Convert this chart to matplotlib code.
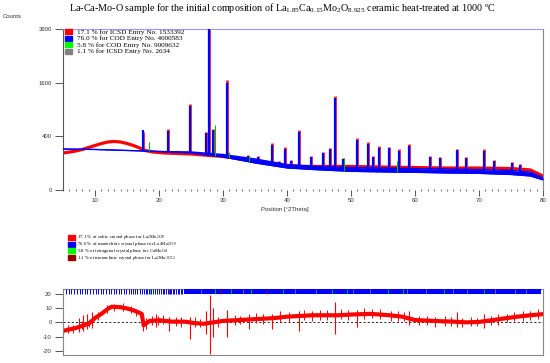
import numpy as np
import matplotlib
matplotlib.use("Agg")
import matplotlib.pyplot as plt
from matplotlib.patches import Rectangle
from matplotlib.ticker import MultipleLocator, FixedLocator

plt.rcParams['mathtext.fontset'] = 'custom'
plt.rcParams['mathtext.rm'] = 'Liberation Serif'
plt.rcParams['mathtext.it'] = 'Liberation Serif'

# ---------------- data ----------------
title_text = ("La-Ca-Mo-O sample for the initial composition of "
              "La$_{1.85}$Ca$_{0.15}$Mo$_{2}$O$_{8.925}$ ceramic heat-treated at 1000 $^{o}$C")

# background (lower edge of calc fill) and calc upper edge of continuous fill
bg_x = [5, 10, 15, 20, 25, 30, 35, 40, 45, 50, 55, 60, 65, 70, 75, 78, 80]
bg_y = [233, 228, 217, 206, 190, 151, 101, 67, 56, 48, 45, 43, 40, 38, 33, 27, 14]
calc_y = [233, 228, 217, 206, 201, 175, 134, 90, 77, 70, 67, 64, 61, 58, 53, 45, 20]

# observed (red) envelope
obs_x = [5, 6, 7, 8, 9, 10, 11, 12, 13, 14, 15, 16, 17, 17.8, 19, 21, 23, 25, 28, 30,
         33, 36, 39, 42, 45, 50, 55, 60, 65, 70, 75, 78, 80]
obs_y = [190, 200, 211, 228, 251, 275, 300, 320, 327, 320, 300, 275, 245, 217, 201, 190,
         185, 180, 165, 156, 134, 109, 87, 77, 77, 77, 73, 70, 67, 67, 64, 56, 27]

# Bragg peaks: position (deg 2theta), calculated height, observed height
peak_pos = [17.45, 21.46, 24.84, 27.4, 27.86, 28.5, 30.57, 33.96, 35.4, 37.62, 38.8, 39.75,
            40.6, 41.8, 43.8, 45.7, 46.65, 47.5, 48.8, 51.0, 52.7, 53.5, 54.4, 55.9, 57.5,
            59.1, 62.3, 63.9, 66.6, 68.0, 70.8, 72.3, 75.1, 76.4]
peak_calc = [500, 490, 980, 450, 3650, 500, 1600, 160, 150, 285, 111, 236,
             119, 466, 150, 186, 230, 1180, 136, 350, 298, 150, 249, 241, 214,
             272, 150, 140, 222, 139, 214, 117, 99, 87]
peak_obs = [470, 520, 1020, 470, 3650, 520, 1680, 170, 160, 310, 120, 255,
            125, 500, 160, 200, 245, 1240, 145, 375, 320, 160, 265, 255, 230,
            290, 160, 150, 235, 150, 228, 125, 108, 95]

green_pos = [18.5, 28.7, 31.0, 34.0, 48.9, 57.2]
green_h = [316, 590, 200, 165, 139, 120]

# residual
res_x = [5, 6, 7, 8, 9, 10, 11, 12, 12.6, 13.9, 15, 16, 16.8, 17.3, 17.6, 18.5, 20, 22, 24,
         25.5, 27, 28.5, 30, 32, 34, 36, 38, 40, 42, 44, 46, 48, 50, 53, 56, 58, 60, 62, 64,
         66, 68, 70, 72, 74, 76, 78, 80]
res_y = [-6, -5, -4, -2.5, -1, 3, 6, 9.5, 11, 10.7, 9.8, 8.5, 7, 6, -2, 1, 1.5, 0.5, 0.5,
         -0.5, -1, 0, 1, 1.5, 2, 2.5, 3, 4, 4.5, 5, 5, 5, 5.5, 6, 5, 4, 1.6, 1.2, 0.8,
         0.5, 0, 0.3, 1.5, 2.8, 4, 5, 5.8]
spike_pos = [7.5, 8.2, 8.8, 9.5, 17.5, 19.5, 21.6, 24.8, 27.4, 27.9, 28.4, 30.6, 34.0,
             37.7, 41.8, 47.5, 51.0, 59.0, 66.6, 70.8]
spike_lo = [-7, -6, -5, -4, -6, -3, -6, -12, -8, -22, -10, -10, -5, -5, -6, -8, -3, -2, -3, -4]
spike_hi = [3, 5, 6, 7, 6, 6, 4, 4, 8, 19, 10, 9, 6, 6, 8, 14, 9, 8, 7, 6]

# small noise excursions around the residual curve (below / above)
noise_pos = [5.8, 6.6, 7.9, 9.1, 10.4, 11.8, 13.0, 14.4, 15.7, 16.4,
             18.0, 18.9, 19.9, 20.7, 22.6, 23.4, 25.6, 26.4, 29.2, 31.8,
             32.6, 35.2, 36.3, 38.9, 40.3, 42.7, 43.9, 45.1, 46.2, 48.4,
             49.5, 52.1, 53.3, 54.6, 56.3, 57.4, 58.3, 60.6, 61.8, 63.1,
             64.7, 65.6, 67.4, 68.8, 69.7, 71.9, 73.0, 74.3, 75.4, 76.8,
             77.9, 79.2]
noise_dn = [2.5, 3, 2, 3, 2.5, 2, 3, 2, 2.5, 3,
            4, 3, 3.5, 2.5, 3, 4, 3, 2.5, 4, 3.5,
            3, 3, 4, 3, 3.5, 3, 4, 3.5, 3, 3,
            4, 3.5, 3, 3, 4, 3, 3, 3.5, 3, 4,
            3, 3, 3.5, 3, 3, 3.5, 4, 3, 3, 3.5,
            3, 3]
noise_up = [3, 2.5, 3.5, 2.5, 3, 3.5, 2, 3, 2.5, 2,
            4, 3.5, 3, 4, 3.5, 3, 4, 3.5, 3, 4,
            3, 4, 3, 4.5, 3.5, 4, 3, 4, 3.5, 4,
            3, 4, 3.5, 4, 3, 3.5, 4, 3, 3.5, 3,
            3.5, 3, 3, 3.5, 3, 3, 3.5, 3, 4, 3.5,
            3, 4]

# reflection markers
refl_blue = [5.5, 5.95, 6.25, 6.7, 7.25, 7.65, 8.0, 8.45, 8.8, 9.25, 9.7, 10.1, 10.5, 10.95,
             11.3, 11.7, 12.15, 12.5, 12.9, 13.3, 13.75, 14.1, 14.5, 14.9, 15.3, 15.6, 15.95,
             16.3, 16.6, 17.0, 17.3, 17.6, 17.9, 18.2, 18.5, 18.8, 19.1, 19.4, 19.7, 20.0,
             20.3, 20.6, 20.85, 21.1, 21.4, 21.65, 21.9, 22.15, 22.4, 22.65, 22.9, 23.15,
             23.4, 23.65]
refl_dense = [23.9, 79.7]
refl_green = [18.6, 28.8, 31.3, 34.3, 39.3, 47.1, 49.3, 55.8, 58.1, 64.5, 70.8]
refl_grey = [26.5, 33.1, 41.2, 44.6, 50.3, 53.0, 58.8, 61.7, 65.9, 68.2, 72.5, 75.7, 77.4]
refl_dark = [21.6, 29.6, 36.8]

legend1_labels = ["17.1 % for ICSD Entry No. 1533392",
                  "76.0 % for COD Entry No. 4000583",
                  "5.8 % for COD Entry No. 9009632",
                  "1.1 % for ICSD Entry No. 2634"]
legend1_colors = ["#ff0000", "#0000ff", "#00ff00", "#808080"]
legend2_labels = ["17.1 % of cubic crystal phase for La$_{2}$Mo$_{2}$O$_{9}$",
                  "76.0 % of monoclinic crystal phase for La$_{2}$Mo$_{2}$O$_{9}$",
                  "5.8 % of tetragonal crystal phase for CaMoO$_{4}$",
                  "1.1 % of monoclinic crystal phase for La$_{2}$Mo$_{3}$O$_{12}$"]
legend2_colors = ["#ff0000", "#0000ff", "#00ff00", "#990000"]

main_ticks = [0, 400, 1600, 3600]
x_ticks = [10, 20, 30, 40, 50, 60, 70, 80]
res_ticks = [-20, -10, 0, 10, 20]

# ---------------- figure ----------------
W, H = 550, 363
fig = plt.figure(figsize=(W / 100, H / 100), dpi=100)


def fx(px):
    return px / W


def fy(py):
    return 1 - py / H


sans = 'Liberation Sans'
serif = 'Liberation Serif'
tick_col = '#333333'

ax = fig.add_axes([fx(63), fy(190), fx(543) - fx(63), fy(29) - fy(190)])
ax.set_yscale('function', functions=(lambda v: np.sqrt(np.clip(v, 0, None)), lambda v: np.square(v)))
ax.set_xlim(5, 80)
ax.set_ylim(0, 3600)

# observed band
ax.plot(obs_x, obs_y, color='#ff0000', lw=2.3, zorder=2, solid_joinstyle='round')
ax.vlines(peak_pos, np.interp(peak_pos, obs_x, obs_y), peak_obs, color='#ff2020', lw=2.0, zorder=2)
# calc fill and line
ax.fill_between(bg_x, bg_y, calc_y, color='#0000ff', lw=0, zorder=3)
ax.plot(bg_x, calc_y, color='#0000ff', lw=1.0, zorder=3)
ax.plot(bg_x, bg_y, color='#0000ff', lw=0.8, zorder=3)
ax.vlines(peak_pos, np.interp(peak_pos, bg_x, bg_y), peak_calc, color='#0000ff', lw=1.6, zorder=4)
ax.vlines(green_pos, np.interp(green_pos, bg_x, bg_y), green_h, color='#00bb00', lw=0.8, zorder=5)

ax.spines['right'].set_color('#888888')
ax.spines['right'].set_linewidth(0.8)
ax.spines['top'].set_color('#9999ee')
ax.spines['top'].set_linewidth(0.8)
ax.spines['left'].set_color('#555555')
ax.spines['left'].set_linewidth(0.8)
ax.spines['bottom'].set_visible(False)

ax.yaxis.set_major_locator(FixedLocator(main_ticks))
ax.set_yticklabels([str(t) for t in main_ticks])
ax.xaxis.set_major_locator(FixedLocator(x_ticks))
ax.xaxis.set_minor_locator(MultipleLocator(1))
ax.set_xticklabels([str(t) for t in x_ticks])
ax.tick_params(axis='y', which='major', length=6, width=0.7, color='#555555', pad=2,
               labelsize=4.3, labelcolor=tick_col)
ax.tick_params(axis='x', which='major', length=4, width=0.7, color='#555555', pad=2,
               labelsize=4.3, labelcolor=tick_col, direction='out')
ax.tick_params(axis='x', which='minor', length=1.0, width=0.8, color='#777777', direction='inout')
for lab in ax.get_xticklabels() + ax.get_yticklabels():
    lab.set_family(sans)

fig.text(fx(285), fy(209), "Position [\u00b02Theta]", ha='center', va='center',
         fontsize=4.3, family=sans, color=tick_col)
fig.text(fx(3), fy(16), "Counts", ha='left', va='center', fontsize=4.3, family=sans, color=tick_col)
fig.text(fx(283), fy(8), title_text, ha='center', va='center', fontsize=7.3, family=serif)

# legend 1
rows1 = [31.7, 38.4, 44.8, 51.5]
for yc, lab, c in zip(rows1, legend1_labels, legend1_colors):
    fig.add_artist(Rectangle((fx(65), fy(yc + 2.6)), fx(6.5), 5.2 / H, color=c,
                             transform=fig.transFigure))
    fig.text(fx(77), fy(yc), lab, ha='left', va='center', fontsize=5.2, family=serif)

# legend 2
rows2 = [237.3, 244.0, 250.7, 257.7]
for yc, lab, c in zip(rows2, legend2_labels, legend2_colors):
    fig.add_artist(Rectangle((fx(68), fy(yc + 2.5)), fx(7), 5.0 / H, color=c,
                             transform=fig.transFigure))
    fig.text(fx(77), fy(yc), lab, ha='left', va='center', fontsize=3.5, family=serif)

# residual axes
rx = fig.add_axes([fx(63), fy(355), fx(543) - fx(63), (355 - 289) / H])
rx.set_xlim(5, 80)
rx.set_ylim(-23, 23.5)
rx.axhline(0, color='black', lw=0.6, ls=(0, (2.5, 2.5)), zorder=1)
rx.plot(res_x, res_y, color='#ff0000', lw=3.0, zorder=2, solid_joinstyle='round')
rx.vlines(spike_pos, spike_lo, spike_hi, color='#ff0000', lw=0.8, zorder=2)
res_at_noise = np.interp(noise_pos, res_x, res_y)
rx.vlines(noise_pos, res_at_noise - np.array(noise_dn), res_at_noise + np.array(noise_up),
          color='#ff0000', lw=0.7, zorder=2)
rx.vlines(refl_blue, 19.8, 23.5, color='#0000ff', lw=0.7, zorder=3)
rx.fill_between(refl_dense, 19.8, 23.5, color='#0000ff', lw=0, zorder=3)
rx.vlines(refl_grey, 19.8, 23.5, color='#7777aa', lw=0.6, zorder=4)
rx.vlines(refl_green, 19.8, 23.5, color='#00cc00', lw=0.6, zorder=4)
rx.vlines(refl_dark, 19.8, 23.5, color='#990000', lw=0.6, zorder=4)
for s in rx.spines.values():
    s.set_color('#888888')
    s.set_linewidth(0.8)
rx.set_xticks([])
rx.yaxis.set_major_locator(FixedLocator(res_ticks))
rx.set_yticklabels([str(t) for t in res_ticks])
rx.tick_params(axis='y', length=6, width=0.7, color='#555555', pad=2, labelsize=4.3,
               labelcolor=tick_col)
for lab in rx.get_yticklabels():
    lab.set_family(sans)

fig.savefig("out.png", dpi=100)
